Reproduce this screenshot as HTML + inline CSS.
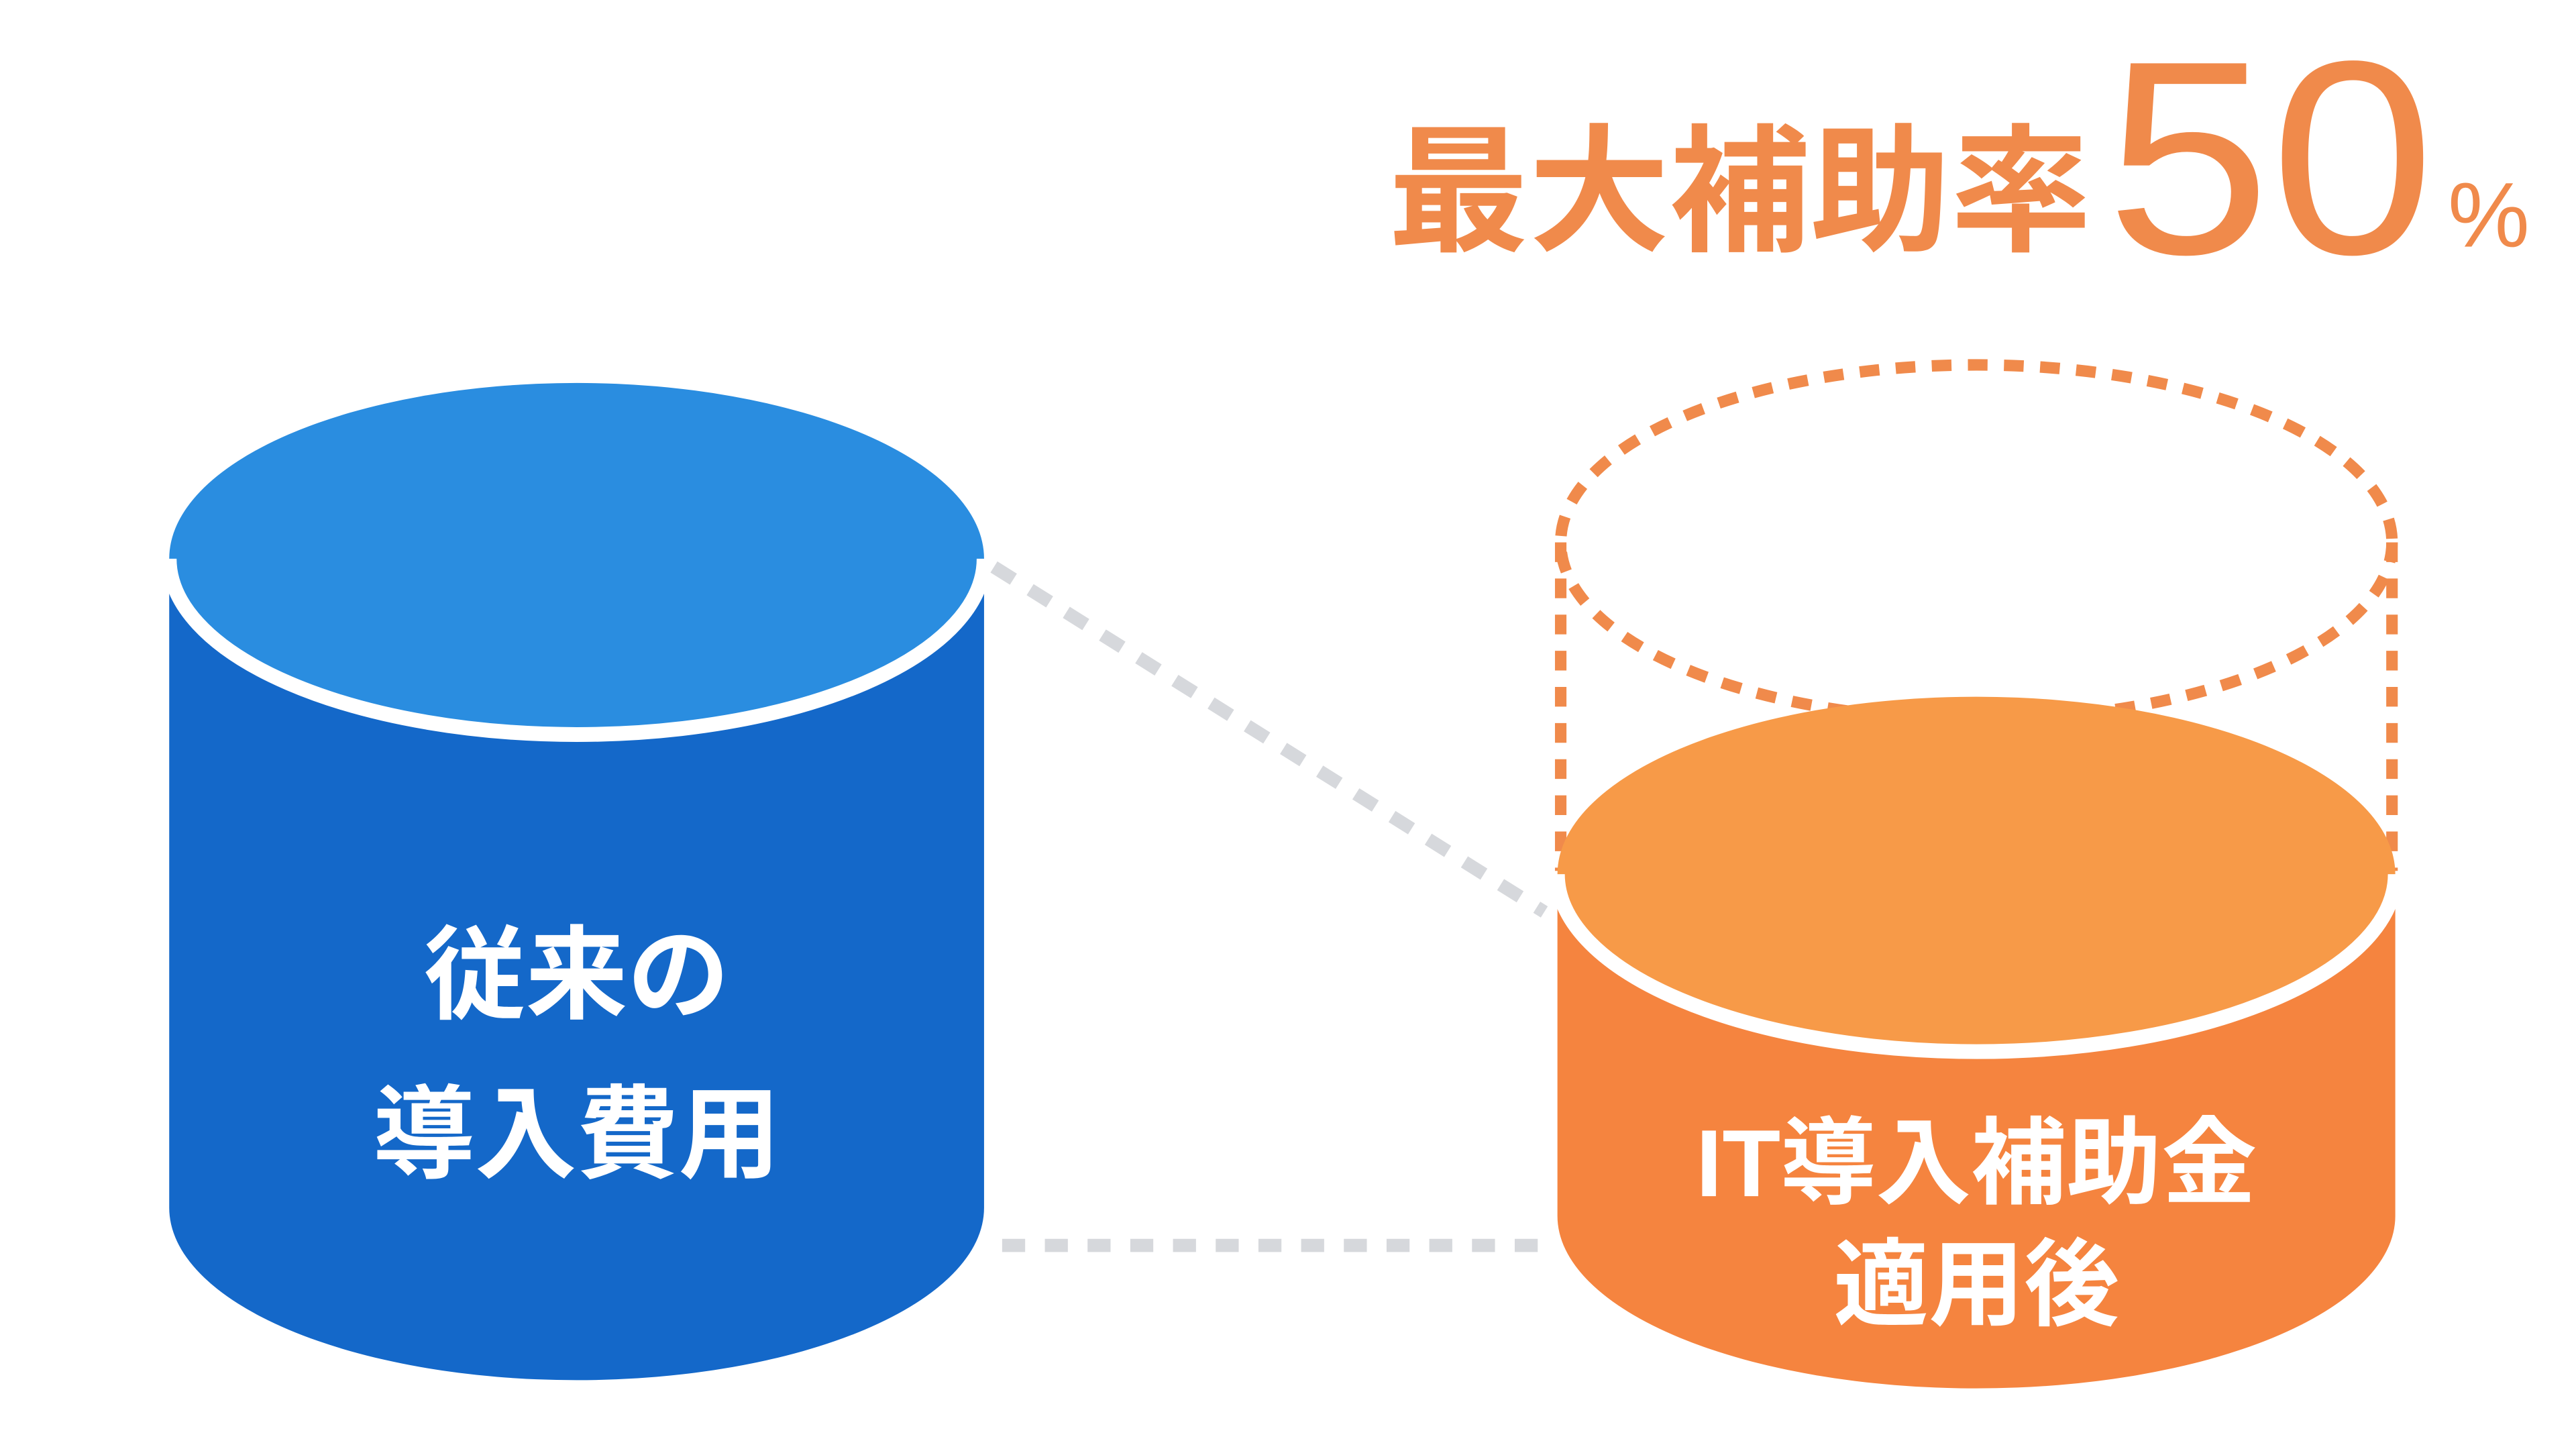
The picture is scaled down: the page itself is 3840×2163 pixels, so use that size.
<!DOCTYPE html>
<html><head><meta charset="utf-8"><style>
html,body{margin:0;padding:0;background:#fff;}
svg{display:block;}
text{font-family:"Liberation Sans","Noto Sans CJK JP",sans-serif;}
.b{font-weight:bold;}
.n{font-weight:normal;}
</style></head><body>
<svg width="3840" height="2163" viewBox="0 0 1568 883" xmlns="http://www.w3.org/2000/svg">
<rect width="1568" height="883" fill="#fff"/>
<line x1="605" y1="345" x2="940" y2="555" stroke="#d6d8dc" stroke-width="8" stroke-dasharray="14 12"/>
<line x1="610" y1="758" x2="940" y2="758" stroke="#d6d8dc" stroke-width="8" stroke-dasharray="14 12"/>
<path d="M103 340 L103 735 A248 105 0 0 0 599 735 L599 340 Z" fill="#1468c9"/>
<ellipse cx="351" cy="340" rx="248" ry="107" fill="#2a8de0"/>
<path d="M103 340 A248 107 0 0 0 599 340" fill="none" stroke="#fff" stroke-width="9"/>
<text class="b" x="351" y="615" font-size="62" fill="#fff" text-anchor="middle">従来の</text>
<text class="b" x="351" y="712" font-size="62" fill="#fff" text-anchor="middle">導入費用</text>
<ellipse cx="1203" cy="330" rx="253" ry="108" fill="none" stroke="#f08a4b" stroke-width="7" stroke-dasharray="12 10"/>
<line x1="950" y1="330" x2="950" y2="530" stroke="#f08a4b" stroke-width="7" stroke-dasharray="12 10"/>
<line x1="1456" y1="330" x2="1456" y2="530" stroke="#f08a4b" stroke-width="7" stroke-dasharray="12 10"/>
<path d="M948 535 L948 740 A255 105 0 0 0 1458 740 L1458 535 Z" fill="#f5843f"/>
<ellipse cx="1203" cy="532" rx="255" ry="108" fill="#f79a48"/>
<path d="M948 532 A255 108 0 0 0 1458 532" fill="none" stroke="#fff" stroke-width="9"/>
<text class="b" x="1203" y="728" font-size="58" fill="#fff" text-anchor="middle">IT導入補助金</text>
<text class="b" x="1203" y="802" font-size="58" fill="#fff" text-anchor="middle">適用後</text>
<text class="b" x="845" y="146" font-size="84" fill="#f08a4b" textLength="428" lengthAdjust="spacingAndGlyphs">最大補助率</text>
<text class="n" x="1282" y="154" font-size="168" fill="#f08a4b" textLength="200" lengthAdjust="spacingAndGlyphs">50</text>
<text class="n" x="1490" y="150" font-size="56" fill="#f08a4b">%</text>
</svg>
</body></html>
